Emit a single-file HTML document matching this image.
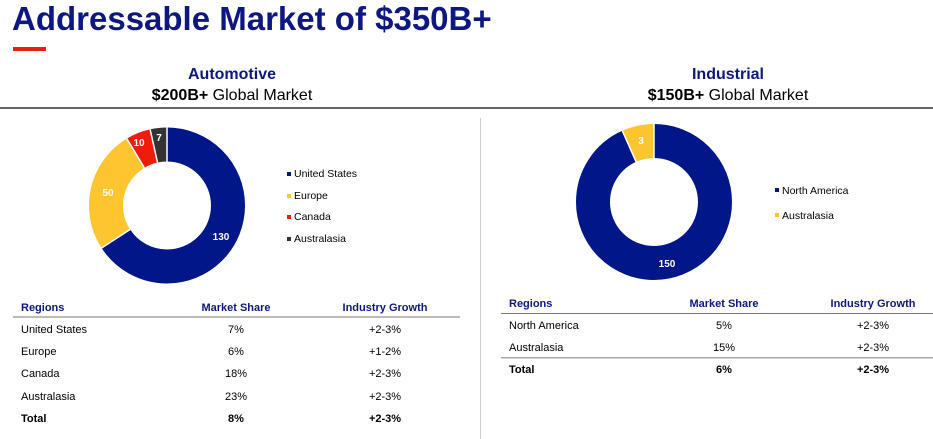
<!DOCTYPE html>
<html><head><style>
body{margin:0;background:#fff;width:933px;height:439px;overflow:hidden}
svg{display:block}
text{font-family:"Liberation Sans",Arial,sans-serif}
</style></head><body>
<svg width="933" height="439" viewBox="0 0 933 439" xmlns="http://www.w3.org/2000/svg">
<text x="12" y="30" font-size="33" font-weight="bold" fill="#0d1782">Addressable Market of $350B+</text>
<rect x="13" y="47" width="33" height="4" fill="#ee1c0a"/>

<text x="232" y="79" font-size="16" font-weight="bold" fill="#0d1782" text-anchor="middle">Automotive</text>
<text x="232" y="100" font-size="16" fill="#000" text-anchor="middle"><tspan font-weight="bold">$200B+</tspan> Global Market</text>
<text x="728" y="79" font-size="16" font-weight="bold" fill="#0d1782" text-anchor="middle">Industrial</text>
<text x="728" y="100" font-size="16" fill="#000" text-anchor="middle"><tspan font-weight="bold">$150B+</tspan> Global Market</text>
<rect x="0" y="107" width="933" height="2" fill="#666"/>
<rect x="480" y="118" width="1" height="321" fill="#ccc"/>

<!-- left donut -->
<g transform="rotate(-90 167 205.5)" fill="none" stroke-width="34">
<circle cx="167" cy="205.5" r="61" stroke="#001689" stroke-dasharray="252.3 383.27"/>
<circle cx="167" cy="205.5" r="61" stroke="#fdc52f" stroke-dasharray="0 252.3 98 383.27"/>
<circle cx="167" cy="205.5" r="61" stroke="#ee1c0a" stroke-dasharray="0 350.3 19.7 383.27"/>
<circle cx="167" cy="205.5" r="61" stroke="#333333" stroke-dasharray="0 370 13.27 383.27"/>
</g>
<g stroke="#fff" stroke-width="1.5">
<line x1="167" y1="127" x2="167" y2="162"/>
<line x1="101.6" y1="248" x2="130.1" y2="229.5"/>
<line x1="126.8" y1="138.6" x2="144.3" y2="167.8"/>
<line x1="150.1" y1="129.3" x2="157.5" y2="162.5"/>
</g>
<g font-size="10" font-weight="bold" fill="#fff" text-anchor="middle">
<text x="221" y="240">130</text><text x="108" y="196">50</text><text x="139" y="146">10</text><text x="159" y="141">7</text>
</g>
<g font-size="10.5" fill="#000">
<rect x="287" y="172" width="4" height="4" fill="#001689"/><text x="294" y="177">United States</text>
<rect x="287" y="194" width="4" height="4" fill="#fdc52f"/><text x="294" y="199">Europe</text>
<rect x="287" y="215" width="4" height="4" fill="#ee1c0a"/><text x="294" y="220">Canada</text>
<rect x="287" y="237" width="4" height="4" fill="#333"/><text x="294" y="242">Australasia</text>
</g>

<!-- right donut -->
<g transform="rotate(-90 654 202)" fill="none" stroke-width="34">
<circle cx="654" cy="202" r="61" stroke="#001689" stroke-dasharray="357.7 383.27"/>
<circle cx="654" cy="202" r="61" stroke="#fdc52f" stroke-dasharray="0 357.7 25.57 383.27"/>
</g>
<g stroke="#fff" stroke-width="1.5">
<line x1="654" y1="123.5" x2="654" y2="158"/>
<line x1="622.3" y1="130.7" x2="636.1" y2="161.8"/>
</g>
<g font-size="10" font-weight="bold" fill="#fff" text-anchor="middle">
<text x="641" y="144">3</text><text x="667" y="267">150</text>
</g>
<g font-size="10.5" fill="#000">
<rect x="775" y="188" width="4" height="4" fill="#001689"/><text x="782" y="194">North America</text>
<rect x="775" y="213" width="4" height="4" fill="#fdc52f"/><text x="782" y="219">Australasia</text>
</g>

<!-- left table -->
<g font-size="11">
<g font-weight="bold" fill="#0d1782"><text x="21" y="311">Regions</text><text x="236" y="311" text-anchor="middle">Market Share</text><text x="385" y="311" text-anchor="middle">Industry Growth</text></g>
<rect x="13" y="316.5" width="447" height="1" fill="#777"/>
<text x="21" y="333">United States</text><text x="236" y="333" text-anchor="middle">7%</text><text x="385" y="333" text-anchor="middle">+2-3%</text>
<text x="21" y="355">Europe</text><text x="236" y="355" text-anchor="middle">6%</text><text x="385" y="355" text-anchor="middle">+1-2%</text>
<text x="21" y="377">Canada</text><text x="236" y="377" text-anchor="middle">18%</text><text x="385" y="377" text-anchor="middle">+2-3%</text>
<text x="21" y="400">Australasia</text><text x="236" y="400" text-anchor="middle">23%</text><text x="385" y="400" text-anchor="middle">+2-3%</text>
<g font-weight="bold"><text x="21" y="422">Total</text><text x="236" y="422" text-anchor="middle">8%</text><text x="385" y="422" text-anchor="middle">+2-3%</text></g>
</g>

<!-- right table -->
<g font-size="11">
<g font-weight="bold" fill="#0d1782"><text x="509" y="307">Regions</text><text x="724" y="307" text-anchor="middle">Market Share</text><text x="873" y="307" text-anchor="middle">Industry Growth</text></g>
<rect x="501" y="313" width="432" height="1" fill="#777"/>
<text x="509" y="329">North America</text><text x="724" y="329" text-anchor="middle">5%</text><text x="873" y="329" text-anchor="middle">+2-3%</text>
<text x="509" y="351">Australasia</text><text x="724" y="351" text-anchor="middle">15%</text><text x="873" y="351" text-anchor="middle">+2-3%</text>
<rect x="501" y="357" width="432" height="1.5" fill="#aaa"/>
<g font-weight="bold"><text x="509" y="373">Total</text><text x="724" y="373" text-anchor="middle">6%</text><text x="873" y="373" text-anchor="middle">+2-3%</text></g>
</g>
</svg>
</body></html>
